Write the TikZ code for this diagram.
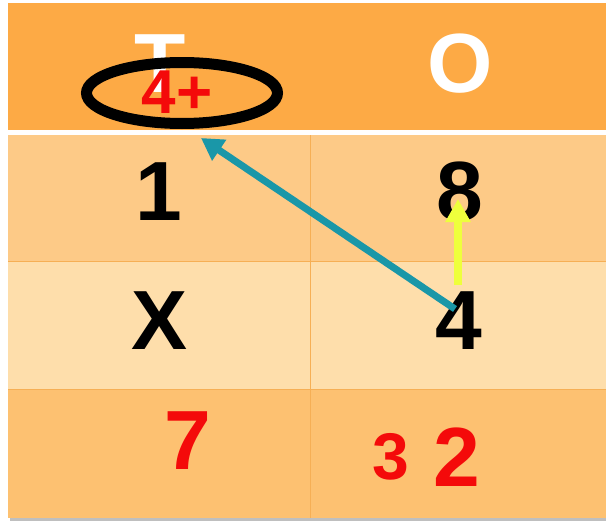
\documentclass[tikz,border=0pt]{standalone}
\usepackage{fontspec}
\setmainfont{Liberation Sans}
\usetikzlibrary{arrows.meta,shapes.geometric}
\definecolor{hdr}{HTML}{FDAA45}
\definecolor{rowa}{HTML}{FDCA87}
\definecolor{rowb}{HTML}{FEDEAB}
\definecolor{rowc}{HTML}{FDC171}
\definecolor{gridln}{HTML}{F6AF55}
\definecolor{teal}{HTML}{1A97A8}
\definecolor{ylw}{HTML}{EEFF3C}
\definecolor{redd}{HTML}{F40A0A}
\tikzset{
  big/.style={inner sep=0pt, font=\bfseries\fontsize{84}{84}\selectfont},
  mid/.style={inner sep=0pt, font=\bfseries\fontsize{66}{66}\selectfont},
  bigw/.style={big, text=white},
  bigk/.style={big, text=black},
  bigr/.style={big, text=redd},
}
\begin{document}
\begin{tikzpicture}[x=1pt,y=-1pt]
\useasboundingbox (0,0) rectangle (606,522);
\fill[white] (0,0) rectangle (606,522);
% table shadow
\fill[black!25] (10,5) rectangle (606,521);
% cells
\fill[hdr] (8,3) rectangle (606,130);
\fill[white] (8,130) rectangle (606,135);
\fill[rowa] (8,135) rectangle (606,261);
\fill[rowb] (8,262) rectangle (606,389);
\fill[rowc] (8,390) rectangle (606,518);
\draw[gridln, line width=1.5pt] (8,261.5) -- (606,261.5);
\draw[gridln, line width=1.5pt] (8,389.5) -- (606,389.5);
\draw[gridln, line width=1pt] (310,135) -- (310,518);
% header text
\node[bigw] (hT) at (160,64) {T};
\node[bigw] (hO) at (460,64) {O};
% row 1
\node[bigk] (c1) at (159,192) {1};
\node[bigk] (c8) at (460,192) {8};
% row 2
\node[bigk] (cX) at (160,321) {X};
\node[bigk] (c4) at (459,321) {4};
% row 3
\node[bigr] (c7) at (188,441) {7};
\node[bigr] (c2) at (457,457) {2};
\node[mid,text=redd] (c3) at (391,457) {3};
% circled 4+
\node[draw=black, line width=11pt, ellipse, minimum width=191pt, minimum height=61pt, inner sep=0pt] (ell) at (182,93) {};
\node[inner sep=0pt, font=\bfseries\fontsize{62}{62}\selectfont, text=redd] (carry) at (177,92.5) {4+};
% arrows
\coordinate (tealS) at (455,309);
\coordinate (tealE) at (201,138);
\draw[teal, line width=7pt, -{Triangle[length=22pt,width=24pt]}] (tealS) -- (tealE);
\coordinate (ylwS) at (458,285);
\coordinate (ylwE) at (458,199);
\draw[ylw, line width=8pt, -{Triangle[length=23pt,width=24pt]}] (ylwS) -- (ylwE);
\end{tikzpicture}
\end{document}
